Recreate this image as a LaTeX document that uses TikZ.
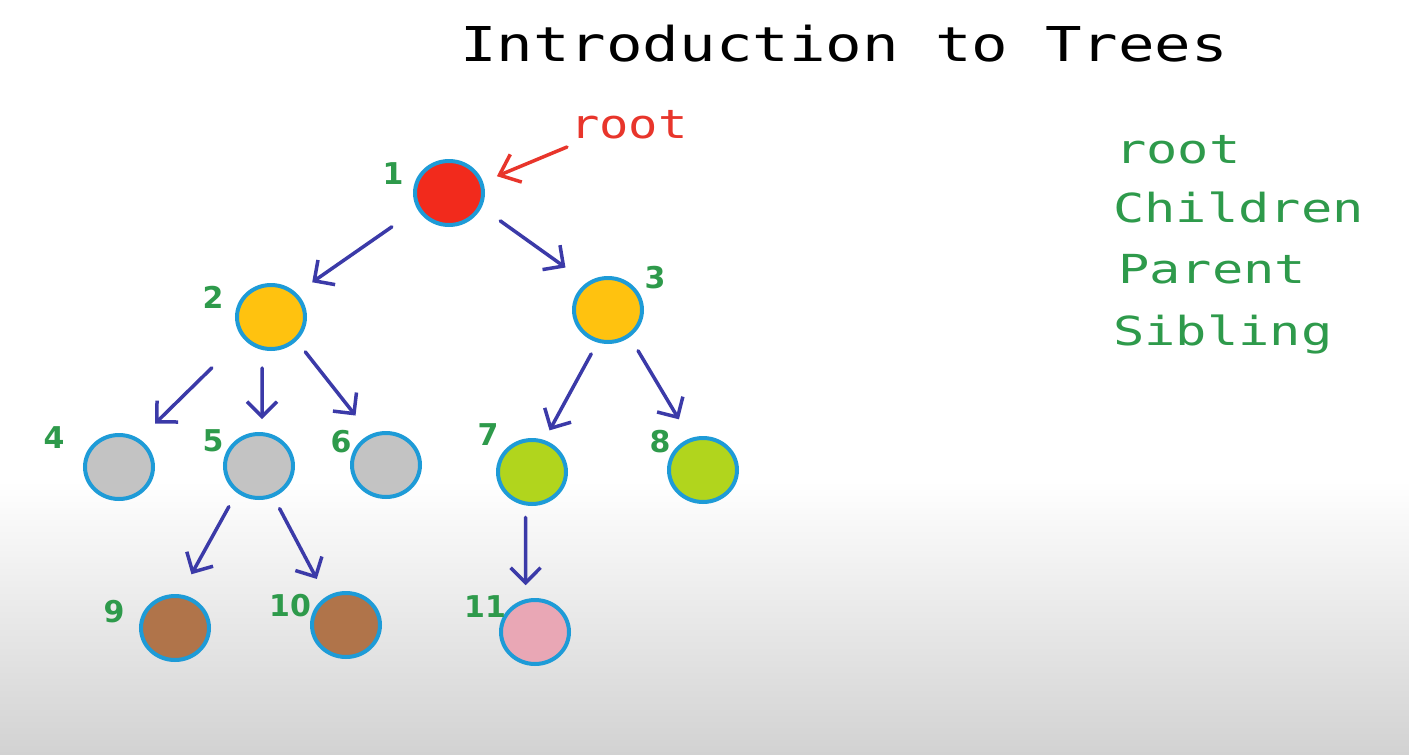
\documentclass[tikz,border=0pt]{standalone}
\usepackage{fontspec}
\usetikzlibrary{arrows.meta,shapes.geometric}
\newfontfamily\handfont{DejaVu Sans Mono}
\newfontfamily\numfont{DejaVu Sans}
\definecolor{nodeborder}{HTML}{1E9BD7}
\definecolor{arrowblue}{HTML}{3B3AA8}
\definecolor{labelgreen}{HTML}{2E9A4B}
\definecolor{rootred}{HTML}{E8352B}
\definecolor{fillred}{HTML}{F22A1C}
\definecolor{fillorange}{HTML}{FFC20F}
\definecolor{fillgrey}{HTML}{C3C3C3}
\definecolor{filllime}{HTML}{B1D51D}
\definecolor{fillbrown}{HTML}{B0744A}
\definecolor{fillpink}{HTML}{E9A7B5}
\definecolor{bgbottom}{HTML}{D2D2D2}
\begin{document}
\begin{tikzpicture}[x=1pt,y=-1pt,
  tnode/.style={ellipse, draw=nodeborder, line width=4pt, minimum width=68pt, minimum height=64pt, inner sep=0pt},
  edge/.style={draw=arrowblue, line width=3.5pt, line cap=round, line join=round, -{Straight Barb[length=15pt,width=30pt]}},
  rootarrow/.style={draw=rootred, line width=3.5pt, line cap=round, line join=round, -{Straight Barb[length=18pt,width=30pt]}},
  nlabel/.style={text=labelgreen, font=\numfont\bfseries\fontsize{30}{30}\selectfont, inner sep=0pt},
  listitem/.style={text=labelgreen, font=\handfont\fontsize{40}{40}\selectfont, inner sep=0pt, anchor=base west},
  titletext/.style={text=black, font=\handfont\fontsize{48}{48}\selectfont, inner sep=0pt, anchor=base west},
  roottext/.style={text=rootred, font=\handfont\fontsize{40}{40}\selectfont, inner sep=0pt, anchor=base west}
]
\useasboundingbox (0,0) rectangle (1409,755);
\fill[white] (0,0) rectangle (1409,755);
\shade[top color=white, bottom color=bgbottom] (0,480) rectangle (1409,755);

% title
\node[titletext] (title) at (460,61) {\scalebox{1.265}[1]{Introduction to Trees}};

% tree nodes
\node[tnode, fill=fillred]    (n1)  at (449,193) {};
\node[tnode, fill=fillorange] (n2)  at (271,317) {};
\node[tnode, fill=fillorange] (n3)  at (608,310) {};
\node[tnode, fill=fillgrey]   (n4)  at (119,467) {};
\node[tnode, fill=fillgrey]   (n5)  at (259,466) {};
\node[tnode, fill=fillgrey]   (n6)  at (386,465) {};
\node[tnode, fill=filllime]   (n7)  at (532,472) {};
\node[tnode, fill=filllime]   (n8)  at (703,470) {};
\node[tnode, fill=fillbrown]  (n9)  at (175,628) {};
\node[tnode, fill=fillbrown]  (n10) at (346,625) {};
\node[tnode, fill=fillpink]   (n11) at (535,632) {};

% number labels
\node[nlabel] (l1)  at (393,174) {1};
\node[nlabel] (l2)  at (213,297) {2};
\node[nlabel] (l3)  at (655,278) {3};
\node[nlabel] (l4)  at (54,438)  {4};
\node[nlabel] (l5)  at (213,441) {5};
\node[nlabel] (l6)  at (341,442) {6};
\node[nlabel] (l7)  at (488,435) {7};
\node[nlabel] (l8)  at (660,442) {8};
\node[nlabel] (l9)  at (114,612) {9};
\node[nlabel] (l10) at (290,606) {10};
\node[nlabel] (l11) at (485,607) {11};

% edges
\draw[edge, shorten <=31pt, shorten >=19pt] (n1.207) -- (n2.43);
\draw[edge, shorten <=23pt, shorten >=26pt] (n1.336) -- (n3.128);
\draw[edge, shorten <=43pt, shorten >=22pt] (n2.216) -- (n4.54);
\draw[edge, shorten <=18pt, shorten >=13pt] (n2.255) -- (n5.85);
\draw[edge, shorten <=14pt, shorten >=24pt] (n2.317) -- (n6.117);
\draw[edge, shorten <=13pt, shorten >=11pt] (n3.252) -- (n7.69);
\draw[edge, shorten <=16pt, shorten >=22pt] (n3.309) -- (n8.112);
\draw[edge, shorten <=16pt, shorten >=23pt] (n5.230) -- (n9.81);
\draw[edge, shorten <=13pt, shorten >=20pt] (n5.295) -- (n10.125);
\draw[edge, shorten <=12pt, shorten >=14pt] (n7.259) -- (n11.106);

% root annotation
\node[roottext] (rootlbl) at (570,138) {\scalebox{1.22}[1]{root}};
\coordinate (rootfrom) at (567,147);
\draw[rootarrow, shorten >=15pt] (rootfrom) -- (n1.18);

% terminology list
\node[listitem] (t1) at (1115,163) {\scalebox{1.3}[1]{root}};
\node[listitem] (t2) at (1113,222) {\scalebox{1.3}[1]{Children}};
\node[listitem] (t3) at (1118,283) {\scalebox{1.3}[1]{Parent}};
\node[listitem] (t4) at (1113,345) {\scalebox{1.3}[1]{Sibling}};
\end{tikzpicture}
\end{document}
